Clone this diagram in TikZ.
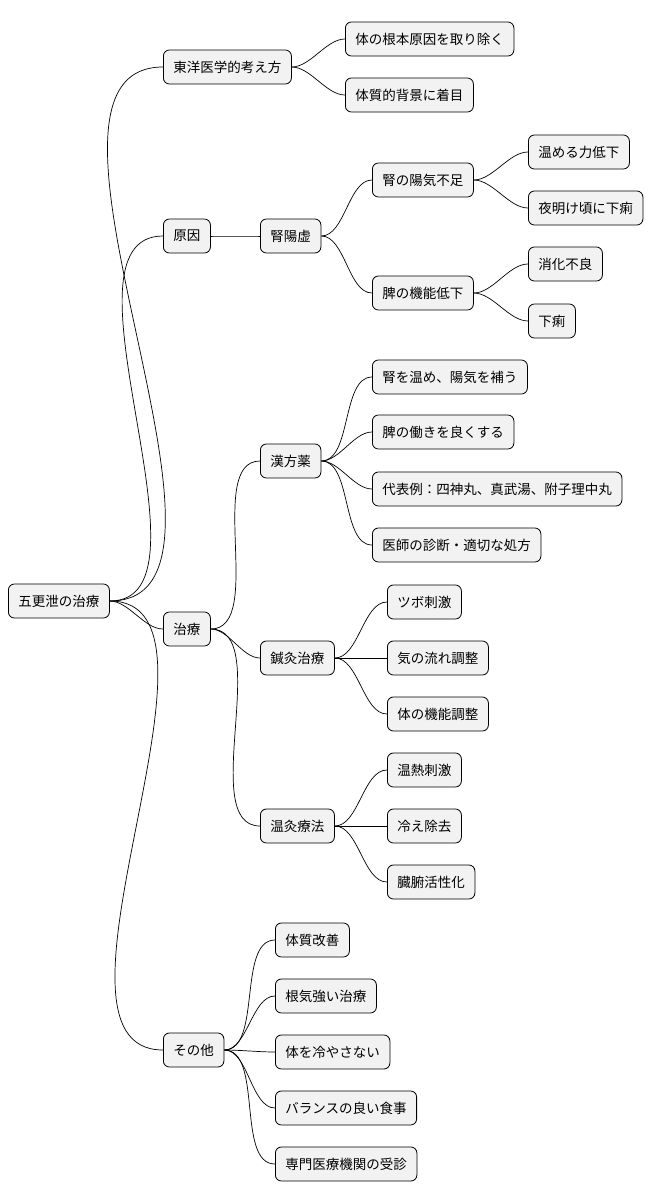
\documentclass[tikz,border=0pt]{standalone}
\usepackage{fontspec}
\newfontfamily\jp{Noto Sans CJK JP}
\begin{document}
\begin{tikzpicture}[x=1pt,y=-1pt,
  box/.style={draw=black,line width=0.8pt,fill=gray!10,rounded corners=6pt,minimum height=34pt,inner xsep=10pt,anchor=west,font=\jp\fontsize{13.5}{15}\selectfont},
  edge/.style={line width=0.7pt}]
\useasboundingbox (0,0) rectangle (656,1203);
\node[box] (r) at (8,601) {五更泄の治療};
\node[box] (a) at (163,67) {東洋医学的考え方};
\node[box] (a1) at (345,39) {体の根本原因を取り除く};
\node[box] (a2) at (345,95) {体質的背景に着目};
\node[box] (b) at (163,236) {原因};
\node[box] (b1) at (260,236) {腎陽虚};
\node[box] (b11) at (372,180) {腎の陽気不足};
\node[box] (b111) at (528,152) {温める力低下};
\node[box] (b112) at (528,208) {夜明け頃に下痢};
\node[box] (b12) at (372,293) {脾の機能低下};
\node[box] (b121) at (528,264) {消化不良};
\node[box] (b122) at (528,321) {下痢};
\node[box] (c) at (163,629) {治療};
\node[box] (c1) at (260,461) {漢方薬};
\node[box] (c11) at (372,377) {腎を温め、陽気を補う};
\node[box] (c12) at (372,432) {脾の働きを良くする};
\node[box] (c13) at (372,489) {代表例：四神丸、真武湯、附子理中丸};
\node[box] (c14) at (372,545) {医師の診断・適切な処方};
\node[box] (c2) at (260,658) {鍼灸治療};
\node[box] (c21) at (387,602) {ツボ刺激};
\node[box] (c22) at (387,658) {気の流れ調整};
\node[box] (c23) at (387,714) {体の機能調整};
\node[box] (c3) at (260,826) {温灸療法};
\node[box] (c31) at (387,770) {温熱刺激};
\node[box] (c32) at (387,826) {冷え除去};
\node[box] (c33) at (387,882) {臓腑活性化};
\node[box] (d) at (163,1050) {その他};
\node[box] (d1) at (275,940) {体質改善};
\node[box] (d2) at (275,996) {根気強い治療};
\node[box] (d3) at (275,1052) {体を冷やさない};
\node[box] (d4) at (275,1108) {バランスの良い食事};
\node[box] (d5) at (275,1164) {専門医療機関の受診};
\foreach \p/\c in {r/a,r/b,r/c,r/d,a/a1,a/a2,b/b1,b1/b11,b1/b12,b11/b111,b11/b112,b12/b121,b12/b122,c/c1,c/c2,c/c3,c1/c11,c1/c12,c1/c13,c1/c14,c2/c21,c2/c22,c2/c23,c3/c31,c3/c32,c3/c33,d/d1,d/d2,d/d3,d/d4,d/d5}
  \draw[edge] (\p.east) to[out=0,in=180,looseness=0.8] (\c.west);
\end{tikzpicture}
\end{document}
